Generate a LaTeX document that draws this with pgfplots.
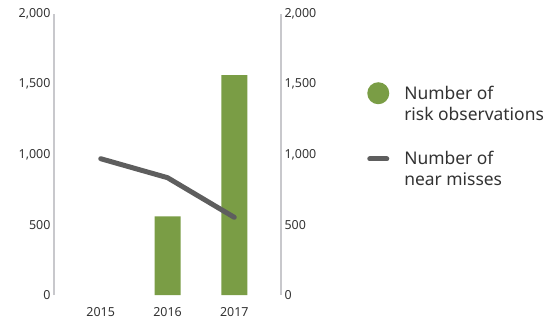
\documentclass[border=0pt]{standalone}
\usepackage{pgfplots}
\pgfplotsset{compat=1.18}
\usepackage{fontspec}
\setmainfont{Noto Sans}
\definecolor{barg}{HTML}{7A9D45}
\definecolor{lineg}{HTML}{5E5E5E}
\definecolor{axg}{HTML}{C8C8CC}
\definecolor{txt}{HTML}{333333}
\begin{document}
\begin{tikzpicture}
\useasboundingbox (0,0) rectangle (545bp,321bp);
\pgfplotsset{
  base/.style={
    at={(54bp,26bp)}, anchor=south west,
    scale only axis, width=227bp, height=281bp,
    xmin=-0.7, xmax=2.7, ymin=0, ymax=2000,
    ytick={0,500,1000,1500,2000},
    scaled y ticks=false,
    /pgf/number format/assume math mode=true,
    /pgf/number format/1000 sep={,},
    tick label style={font=\fontsize{12.5}{14}\selectfont, text=txt},
    major tick length=0pt,
    axis line style={draw=axg, line width=1.5bp},
    clip=false,
  }
}
\begin{axis}[base,
  axis y line*=left, axis x line*=bottom,
  x axis line style={draw=none},
  xtick={0,1,2}, xticklabels={2015,2016,2017},
  xtick style={draw=none},
  xticklabel style={yshift=-9bp},
  legend style={at={(1.366,0.765)}, anchor=north west, draw=none, fill=none,
    font=\fontsize{17.5}{21}\selectfont, text=txt,
    cells={anchor=west, align=left},
    row sep=26bp,
    /tikz/column 1/.style={column sep=13bp}},
]
\addplot[ybar, bar width=26bp, fill=barg, draw=none,
  legend image code/.code={\fill[barg] (11bp,10.5bp) circle (11bp);}]
  coordinates {(1,560) (2,1565)};
\addlegendentry{Number of\\risk observations}
\addplot[sharp plot, lineg, line width=5bp, line cap=round, line join=round, mark=none,
  legend image code/.code={\draw[lineg, line width=5bp, line cap=round] (2.5bp,10.5bp) -- (19.5bp,10.5bp);}]
  coordinates {(0,970) (1,835) (2,553)};
\addlegendentry{Number of\\near misses}
\end{axis}
\begin{axis}[base,
  axis y line*=right, axis x line=none,
  ytick pos=right,
]
\end{axis}
\end{tikzpicture}
\end{document}
